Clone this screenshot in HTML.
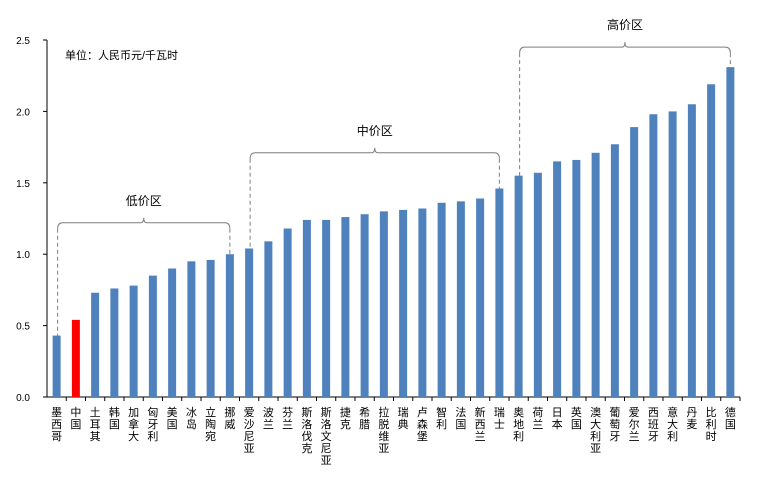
<!DOCTYPE html>
<html><head><meta charset="utf-8"><style>
body{margin:0;background:#fff;}
svg text{font-family:"Liberation Sans","Noto Sans CJK SC",sans-serif;}
</style></head><body>
<svg id="c" width="764" height="492"></svg>
<script>
const categories=["墨西哥","中国","土耳其","韩国","加拿大","匈牙利","美国","冰岛","立陶宛","挪威","爱沙尼亚","波兰","芬兰","斯洛伐克","斯洛文尼亚","捷克","希腊","拉脱维亚","瑞典","卢森堡","智利","法国","新西兰","瑞士","奥地利","荷兰","日本","英国","澳大利亚","葡萄牙","爱尔兰","西班牙","意大利","丹麦","比利时","德国"];
const values=[0.43,0.54,0.73,0.76,0.78,0.85,0.90,0.95,0.96,1.00,1.04,1.09,1.18,1.24,1.24,1.26,1.28,1.30,1.31,1.32,1.36,1.37,1.39,1.46,1.55,1.57,1.65,1.66,1.71,1.77,1.89,1.98,2.00,2.05,2.19,2.31];
const yTicks=["0.0","0.5","1.0","1.5","2.0","2.5"];
const groups=[{name:"低价区",from:0,to:9,top:1.22},{name:"中价区",from:10,to:23,top:1.71},{name:"高价区",from:24,to:35,top:2.45}];
const NS="http://www.w3.org/2000/svg";
const svg=document.getElementById('c');
const x0=47,x1=740,y0=397,yTop=40,yMax=2.5;
const step=(x1-x0)/categories.length;
const xc=i=>x0+step*(i+0.5);
const y=v=>y0-(v/yMax)*(y0-yTop);
function mk(t,a){const e=document.createElementNS(NS,t);for(const k in a)e.setAttribute(k,a[k]);svg.appendChild(e);return e;}
// axes
let ax=mk('line',{x1:x0,y1:yTop,x2:x0,y2:y0,stroke:'#000','stroke-width':1});


yTicks.forEach((t,i)=>{const v=parseFloat(t);
 let tk=mk('line',{x1:x0-4,y1:y(v),x2:x0,y2:y(v),stroke:'#000'});
 
 
 let tx=mk('text',{x:x0-17,y:y(v)+4,'text-anchor':'end','font-size':10});tx.textContent=t;
 
 
});
let xa=mk('line',{x1:x0,y1:y0,x2:x1,y2:y0,stroke:'#000'});


categories.forEach((c,i)=>{
 let tk=mk('line',{x1:x0+step*(i+1),y1:y0,x2:x0+step*(i+1),y2:y0+4,stroke:'#000'});
 
 
 let b=mk('rect',{x:xc(i)-4,y:y(values[i]),width:8,height:y0-y(values[i]),fill:c==="中国"?'#ff0000':'#4f81bd'});
 
 
 let t=mk('text',{x:xc(i),'font-size':11,'text-anchor':'middle'});
 
 
 [...c].forEach((ch,k)=>{const s=document.createElementNS(NS,'tspan');s.setAttribute('x',xc(i));s.setAttribute('y',y0+19+k*12);s.textContent=ch;t.appendChild(s);});
});
groups.forEach(g=>{
 const a=xc(g.from)+1,b=xc(g.to),yt=y(g.top),m=(a+b)/2;
 let p=mk('path',{d:`M${a},${yt+6} Q${a},${yt} ${a+5},${yt} L${m-3},${yt} Q${m},${yt} ${m},${yt-5} Q${m},${yt} ${m+3},${yt} L${b-5},${yt} Q${b},${yt} ${b},${yt+6}`,fill:'none',stroke:'#7f7f7f','stroke-width':1});
 
 
 [[a,g.from],[b,g.to]].forEach(([xx,i])=>{let d=mk('line',{x1:xx,y1:yt+6,x2:xx,y2:y(values[i])+2,stroke:'#7f7f7f','stroke-dasharray':'4,3'});
  
  });
 let t=mk('text',{x:m,y:yt-18,'text-anchor':'middle','font-size':12});t.textContent=g.name;
 
 
});
let u=mk('text',{x:65,y:59,'font-size':11});u.textContent="单位：人民币元/千瓦时";


</script>
</body></html>
